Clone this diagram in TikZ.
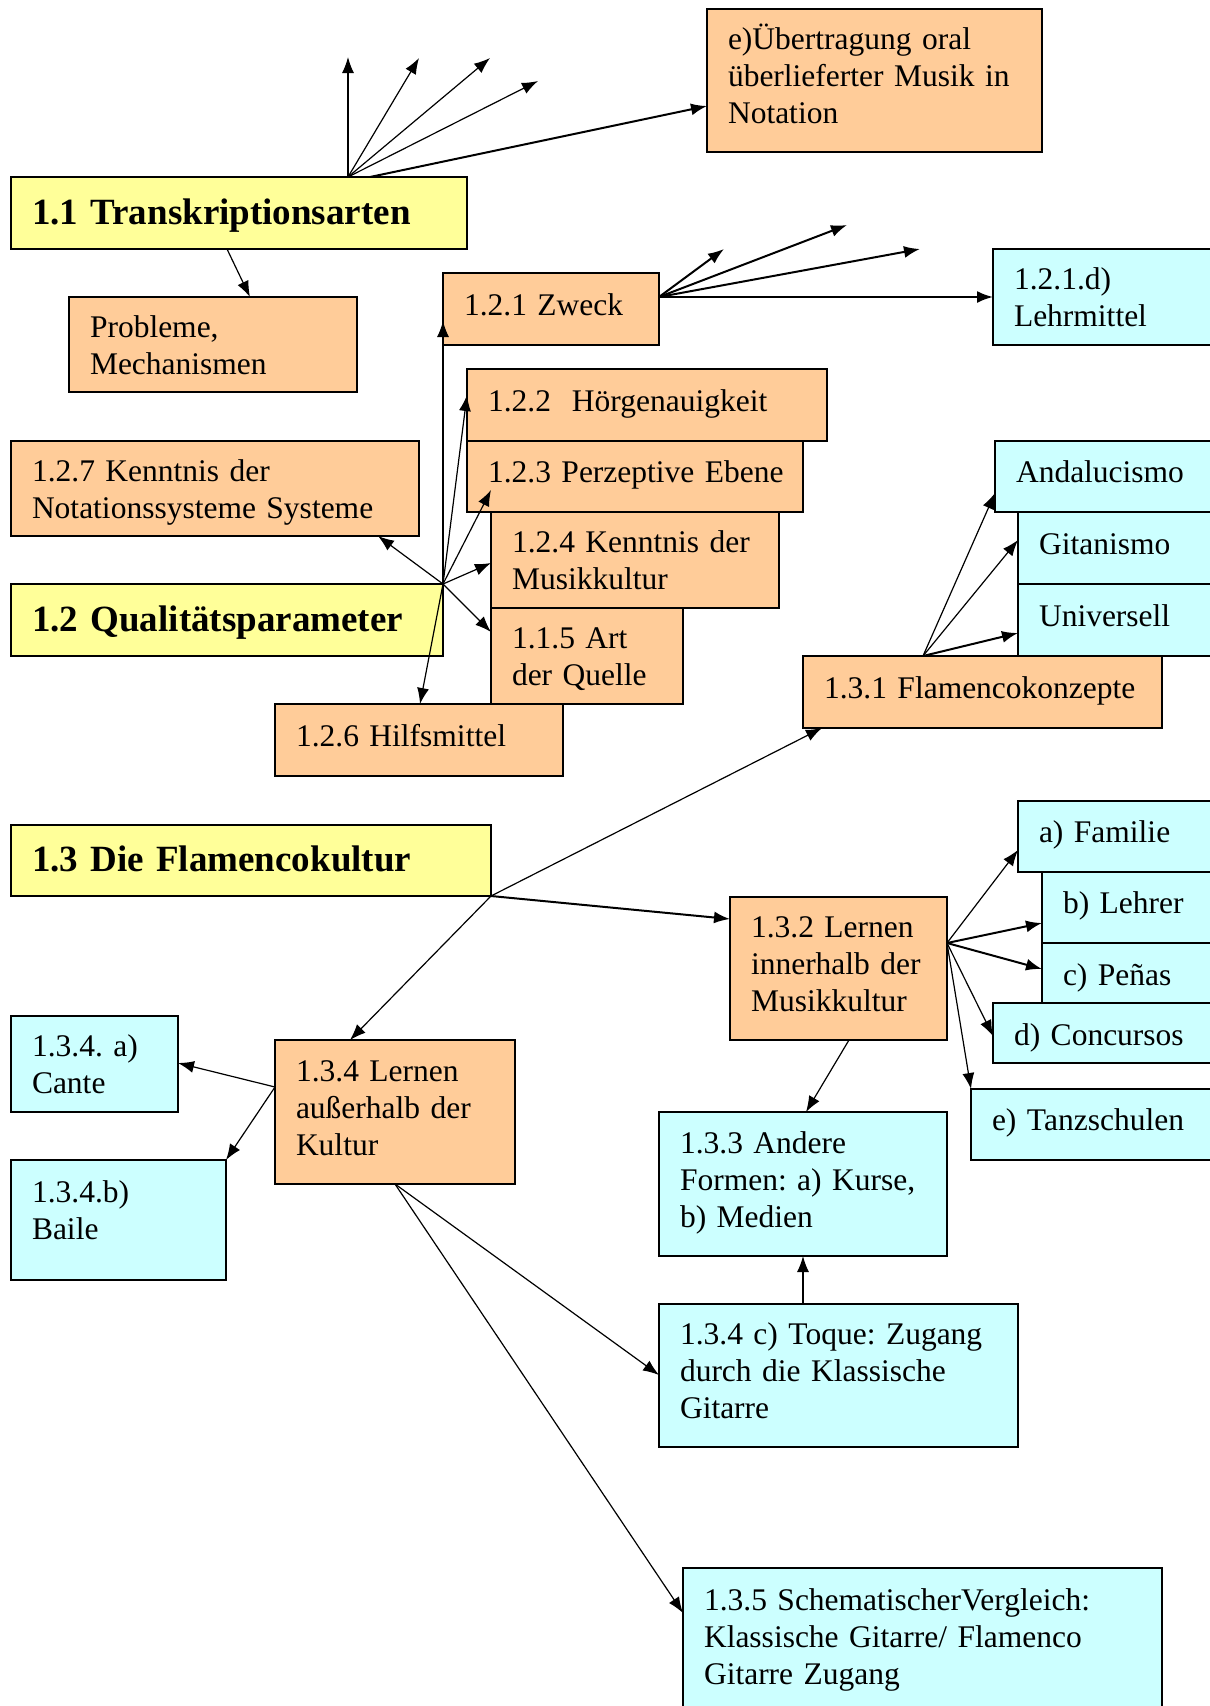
\documentclass[tikz,border=0pt]{standalone}
\usepackage{fontspec}
\setmainfont{Liberation Serif}
\usetikzlibrary{arrows.meta,calc}
\definecolor{hellorange}{HTML}{FFCC99}
\definecolor{hellgelb}{HTML}{FFFF99}
\definecolor{helltuerkis}{HTML}{CCFFFF}
\tikzset{
  kasten/.style={draw, line width=1.5pt, anchor=north west, align=left, inner xsep=21pt, inner ysep=0pt, outer sep=0pt,
    font=\fontsize{31.5}{37}\selectfont\frenchspacing,
    execute at begin node={\rule{0pt}{26pt}}, execute at end node={\rule[-14pt]{0pt}{0pt}}},
  obox/.style={kasten, fill=hellorange},
  cbox/.style={kasten, fill=helltuerkis},
  titel/.style={kasten, fill=hellgelb, font=\fontsize{37}{42}\selectfont\bfseries,
    execute at begin node={\rule{0pt}{36pt}}, execute at end node={\rule[-10pt]{0pt}{0pt}}},
  zwei/.style={execute at begin node={\rule{0pt}{36pt}}},
  tief/.style={execute at begin node={\rule{0pt}{38pt}}},
  pfeil/.style={line width=1.2pt, -{Latex[length=16pt,width=12pt]}},
  pfeildick/.style={pfeil, line width=2pt}
}
\begin{document}
\begin{tikzpicture}[x=1pt,y=-1pt]
    \useasboundingbox (0,0) rectangle (1210,1706);
    \clip (0,0) rectangle (1210,1706);
    \node[obox, text width=293pt, minimum height=143pt] (ueb) at (707,9) {e)Übertragung oral\\überlieferter Musik in\\Notation};
    \node[titel, text width=414pt, minimum height=72pt] (t11) at (11,177) {1.1 Transkriptionsarten};
    \node[obox, zwei, text width=246pt, minimum height=95pt] (prob) at (69,297) {Probleme,\\Mechanismen};
    \node[obox, text width=174pt, minimum height=72pt] (zweck) at (443,273) {1.2.1 Zweck};
    \node[cbox, zwei, text width=195pt, minimum height=96pt] (lehrm) at (993,249) {1.2.1.d)\\Lehrmittel};
    \node[obox, text width=318pt, minimum height=72pt] (hoer) at (467,369) {1.2.2\ \ Hörgenauigkeit};
    \node[obox, text width=294pt, minimum height=71pt] (perz) at (467,441) {\mbox{1.2.3 Perzeptive Ebene}};
    \node[obox, zwei, text width=366pt, minimum height=95pt] (k127) at (11,441) {1.2.7 Kenntnis der\\Notationssysteme Systeme};
    \node[obox, zwei, text width=246pt, minimum height=96pt] (k124) at (491,512) {1.2.4 Kenntnis der\\Musikkultur};
    \node[titel, text width=390pt, minimum height=72pt] (q12) at (11,584) {1.2 Qualitätsparameter};
    \node[obox, zwei, text width=150pt, minimum height=96pt] (art) at (491,608) {1.1.5 Art\\der Quelle};
    \node[obox, text width=246pt, minimum height=72pt] (hilf) at (275,704) {1.2.6 Hilfsmittel};
    \node[cbox, text width=193pt, minimum height=71pt] (anda) at (995,441) {Andalucismo};
    \node[cbox, text width=170pt, minimum height=72pt] (gita) at (1018,512) {Gitanismo};
    \node[cbox, text width=170pt, minimum height=72pt] (univ) at (1018,584) {Universell};
    \node[obox, text width=317pt, minimum height=72pt] (flam) at (803,656) {1.3.1 Flamencokonzepte};
    \node[titel, text width=438pt, minimum height=71pt] (t13) at (11,825) {1.3 Die Flamencokultur};
    \node[cbox, text width=170pt, minimum height=71pt] (fam) at (1018,801) {a) Familie};
    \node[cbox, text width=146pt, minimum height=71pt] (lehr) at (1042,872) {b) Lehrer};
    \node[cbox, tief, text width=146pt, minimum height=60pt] (pena) at (1042,943) {c) Peñas};
    \node[cbox, tief, text width=195pt, minimum height=60pt] (conc) at (993,1003) {d) Concursos};
    \node[cbox, text width=217pt, minimum height=71pt] (tanz) at (971,1089) {e) Tanzschulen};
    \node[obox, text width=175pt, minimum height=143pt] (l132) at (730,897) {1.3.2 Lernen\\innerhalb der\\Musikkultur};
    \node[cbox, zwei, text width=125pt, minimum height=96pt] (cante) at (11,1016) {1.3.4. a)\\Cante};
    \node[obox, text width=198pt, minimum height=144pt] (l134) at (275,1040) {1.3.4 Lernen\\außerhalb der\\Kultur};
    \node[cbox, execute at end node={\rule[-24pt]{0pt}{0pt}}, text width=173pt, minimum height=120pt] (baile) at (11,1160) {1.3.4.b)\\Baile};
    \node[cbox, text width=246pt, minimum height=144pt] (andere) at (659,1112) {1.3.3 Andere\\Formen: a) Kurse,\\b) Medien};
    \node[cbox, text width=317pt, minimum height=143pt] (toque) at (659,1304) {1.3.4 c) Toque: Zugang\\durch die Klassische\\Gitarre};
    \node[cbox, text width=437pt, minimum height=146pt] (s135) at (683,1568) {1.3.5 SchematischerVergleich:\\Klassische Gitarre/ Flamenco\\Gitarre Zugang};

    \coordinate (frei1) at (348,57);
    \coordinate (frei2) at (419,58);
    \coordinate (frei3) at (490,58);
    \coordinate (frei4) at (538,81);
    \coordinate (frei5) at (724,249);
    \coordinate (frei6) at (847,225);
    \coordinate (frei7) at (920,249);

    \coordinate (hub11) at ($(t11.north west)+(337,0)$);
    \draw[pfeil] (hub11) -- (frei1);
    \draw[pfeil] (hub11) -- (frei2);
    \draw[pfeil] (hub11) -- (frei3);
    \draw[pfeil] (hub11) -- (frei4);
    \draw[pfeildick] ($(t11.north west)+(359,0)$) -- ($(ueb.north west)+(0,97)$);
    \draw[pfeil] ($(t11.south west)+(216,0)$) -- ($(prob.north west)+(181,0)$);

    \coordinate (hubz) at (zweck.east |- lehrm.west);
    \draw[pfeildick] (hubz) -- (frei5);
    \draw[pfeildick] (hubz) -- (frei6);
    \draw[pfeildick] (hubz) -- (frei7);
    \draw[pfeildick] (hubz) -- (lehrm.west);

    \draw[pfeil] (q12.north east) -- ($(k127.south west)+(367,0)$);
    \draw[pfeil] (q12.north east) -- ($(zweck.north west)+(0,48)$);
    \draw[pfeil] (q12.north east) -- ($(hoer.north west)+(0,26)$);
    \draw[pfeil] (q12.north east) -- ($(k124.north west)+(0,-22)$);
    \draw[pfeil] (q12.north east) -- ($(k124.north west)+(0,51)$);
    \draw[pfeil] (q12.north east) -- ($(art.north west)+(0,24)$);
    \draw[pfeil] (q12.north east) -- ($(hilf.north west)+(145,0)$);

    \coordinate (hubf) at ($(flam.north west)+(120,0)$);
    \draw[pfeil] (hubf) -- ($(anda.north west)+(0,52)$);
    \draw[pfeil] (hubf) -- ($(gita.north west)+(0,28)$);
    \draw[pfeildick] (hubf) -- ($(univ.north west)+(0,49)$);

    \draw[pfeil] (t13.south east) -- ($(flam.south west)+(19,0)$);
    \draw[pfeildick] (t13.south east) -- ($(l132.north west)+(0,22)$);
    \draw[pfeil] (t13.south east) -- ($(l134.north west)+(75,0)$);

    \coordinate (hubl) at ($(l132.north east)+(0,46)$);
    \draw[pfeil] (hubl) -- ($(fam.north west)+(0,49)$);
    \draw[pfeildick] (hubl) -- ($(lehr.north west)+(0,51)$);
    \draw[pfeildick] (hubl) -- ($(pena.north west)+(0,26)$);
    \draw[pfeil] (hubl) -- ($(conc.north west)+(0,33)$);
    \draw[pfeil] (hubl) -- (tanz.north west);
    \draw[pfeil] ($(l132.south west)+(119,0)$) -- ($(andere.north west)+(147,0)$);

    \coordinate (hubk) at ($(l134.north west)+(0,47)$);
    \draw[pfeil] (hubk) -- ($(cante.north east)+(0,47)$);
    \draw[pfeil] (hubk) -- (baile.north east);
    \draw[pfeil] (l134.south) -- ($(toque.north west)+(0,71)$);
    \draw[pfeil] (l134.south) -- ($(s135.north west)+(0,45)$);
    \draw[pfeil] ($(toque.north west)+(144,0)$) -- ($(andere.south west)+(144,0)$);
\end{tikzpicture}
\end{document}
